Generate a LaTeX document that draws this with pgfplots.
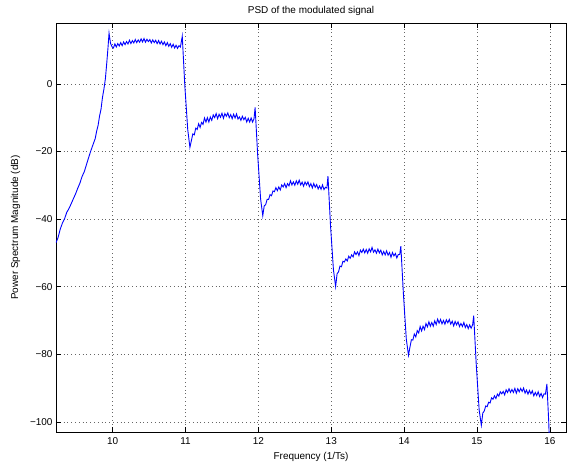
\documentclass[border=0pt]{standalone}
\usepackage{pgfplots}
\pgfplotsset{compat=1.18}
\usepackage{fontspec}
\setmainfont{Liberation Sans}

% PSD values (dB vs. frequency in 1/Ts)
\pgfplotstableread{
x y
9.222 -47.0
9.25 -45.5
9.28 -43.0
9.31 -41.2
9.34 -39.9
9.37 -38.0
9.40 -36.9
9.43 -35.5
9.46 -34.0
9.49 -32.6
9.52 -30.9
9.55 -29.4
9.58 -27.4
9.61 -26.0
9.64 -23.9
9.67 -21.8
9.70 -19.8
9.73 -18.0
9.76 -16.2
9.78 -14.0
9.80 -12.3
9.82 -9.5
9.84 -7.5
9.86 -4.0
9.88 -1.5
9.90 1.5
9.92 6.5
9.935 10.5
9.95 15.0
9.97 12.0
9.99 11.0
10.01 10.6
10.03 11.8
10.05 10.9
10.07 11.9
10.09 11.2
10.11 12.2
10.13 11.3
10.15 12.4
10.17 11.6
10.19 12.5
10.21 11.8
10.23 12.9
10.25 11.9
10.27 12.8
10.29 12.1
10.31 13.1
10.33 12.2
10.35 13.0
10.37 12.3
10.39 13.3
10.41 12.4
10.43 13.4
10.45 12.3
10.47 13.2
10.49 12.5
10.51 13.1
10.53 12.1
10.55 13.0
10.57 12.2
10.59 12.9
10.61 11.9
10.63 12.8
10.65 11.8
10.67 12.6
10.69 11.6
10.71 12.4
10.73 11.3
10.75 12.2
10.77 11.1
10.79 11.9
10.81 10.8
10.83 11.7
10.85 10.6
10.87 11.4
10.89 10.5
10.91 11.3
10.93 10.9
10.955 14.1
10.99 -0.5
11.03 -13.5
11.06 -18.8
11.08 -16.8
11.10 -14.8
11.12 -15.1
11.14 -13.1
11.16 -13.5
11.18 -11.8
11.20 -12.9
11.22 -11.4
11.24 -12.0
11.26 -10.1
11.28 -11.3
11.30 -10.0
11.32 -11.3
11.34 -9.8
11.36 -10.8
11.38 -9.2
11.40 -10.0
11.42 -8.8
11.44 -10.3
11.46 -9.0
11.48 -9.9
11.50 -8.7
11.52 -10.2
11.54 -8.8
11.56 -9.6
11.58 -8.6
11.60 -10.0
11.62 -9.1
11.64 -10.3
11.66 -9.0
11.68 -10.1
11.70 -8.9
11.72 -10.4
11.74 -9.8
11.76 -10.8
11.78 -9.6
11.80 -10.6
11.82 -9.9
11.84 -11.3
11.86 -10.2
11.88 -11.3
11.90 -10.1
11.92 -11.3
11.94 -10.3
11.955 -7.0
11.99 -21.0
12.03 -34.0
12.06 -39.0
12.08 -36.1
12.10 -35.7
12.12 -34.2
12.14 -34.2
12.16 -32.8
12.18 -33.1
12.20 -31.7
12.22 -31.9
12.24 -30.7
12.26 -31.6
12.28 -30.5
12.30 -31.4
12.32 -29.9
12.34 -30.5
12.36 -29.5
12.38 -30.7
12.40 -29.5
12.42 -30.2
12.44 -28.7
12.46 -29.9
12.48 -29.0
12.50 -30.0
12.52 -28.7
12.54 -29.7
12.56 -28.5
12.58 -29.9
12.60 -29.1
12.62 -30.3
12.64 -29.0
12.66 -29.9
12.68 -29.0
12.70 -30.4
12.72 -29.5
12.74 -30.8
12.76 -29.5
12.78 -30.6
12.80 -29.8
12.82 -31.1
12.84 -30.2
12.86 -31.2
12.88 -29.9
12.90 -31.3
12.92 -30.6
12.94 -30.8
12.955 -27.3
12.99 -42.0
13.03 -55.0
13.06 -60.0
13.08 -56.2
13.10 -55.6
13.12 -53.9
13.14 -54.1
13.16 -52.5
13.18 -52.7
13.20 -51.8
13.22 -52.4
13.24 -51.0
13.26 -51.6
13.28 -50.6
13.30 -51.2
13.32 -49.7
13.34 -50.5
13.36 -49.7
13.38 -50.8
13.40 -49.2
13.42 -49.9
13.44 -48.9
13.46 -50.0
13.48 -49.0
13.50 -50.1
13.52 -48.8
13.54 -49.7
13.56 -48.4
13.58 -49.8
13.60 -49.1
13.62 -50.1
13.64 -48.9
13.66 -50.0
13.68 -49.2
13.70 -50.6
13.72 -49.6
13.74 -50.6
13.76 -49.4
13.78 -50.7
13.80 -49.9
13.82 -51.3
13.84 -49.9
13.86 -50.9
13.88 -50.2
13.90 -51.5
13.92 -50.5
13.94 -50.5
13.955 -48.0
13.99 -62.0
14.03 -75.5
14.06 -80.3
14.08 -77.9
14.10 -75.7
14.12 -75.8
14.14 -74.0
14.16 -74.9
14.18 -73.0
14.20 -73.7
14.22 -71.8
14.24 -73.1
14.26 -71.7
14.28 -72.7
14.30 -70.9
14.32 -71.9
14.34 -70.4
14.36 -71.7
14.38 -70.6
14.40 -71.7
14.42 -70.1
14.44 -71.2
14.46 -69.6
14.48 -70.8
14.50 -69.7
14.52 -71.0
14.54 -70.0
14.56 -71.1
14.58 -69.8
14.60 -70.7
14.62 -69.7
14.64 -71.1
14.66 -70.2
14.68 -71.6
14.70 -70.3
14.72 -71.3
14.74 -70.4
14.76 -71.8
14.78 -70.9
14.80 -71.8
14.82 -70.6
14.84 -72.1
14.86 -71.2
14.88 -72.4
14.90 -71.3
14.92 -72.3
14.94 -71.3
14.955 -68.6
14.99 -83.0
15.03 -96.5
15.06 -101.0
15.08 -97.4
15.10 -96.8
15.12 -95.3
15.14 -95.5
15.16 -94.2
15.18 -94.4
15.20 -92.9
15.22 -93.3
15.24 -92.3
15.26 -93.1
15.28 -91.8
15.30 -92.4
15.32 -91.1
15.34 -91.7
15.36 -91.0
15.38 -92.0
15.40 -90.5
15.42 -91.3
15.44 -90.2
15.46 -91.3
15.48 -90.4
15.50 -91.3
15.52 -90.1
15.54 -91.5
15.56 -90.2
15.58 -91.1
15.60 -90.1
15.62 -91.0
15.64 -90.0
15.66 -91.5
15.68 -90.6
15.70 -91.8
15.72 -90.7
15.74 -91.7
15.76 -90.8
15.78 -92.3
15.80 -91.3
15.82 -92.2
15.84 -91.1
15.86 -92.5
15.88 -91.6
15.90 -92.8
15.92 -91.7
15.94 -91.8
15.96 -88.8
15.985 -100.0
16.00 -110.0
}\psd

\begin{document}
\begin{tikzpicture}
\begin{axis}[
  name=ax,
  scale only axis,
  width=510bp, height=409bp,
  xmin=9.222, xmax=16.222,
  ymin=-103, ymax=18,
  xtick={10,11,12,13,14,15,16},
  xticklabels={10,11,12,13,14,15,16},
  ytick={-100,-80,-60,-40,-20,0},
  yticklabels={−100,−80,−60,−40,−20,0},
  tick align=inside,
  major tick length=5bp,
  tick style={black, line width=0.5bp},
  axis line style={black, line width=0.8bp},
  grid=major,
  major grid style={black!60, line width=0.6bp, dash pattern=on 0.6bp off 3.2bp},
  ticklabel style={font=\fontsize{10}{12}\selectfont},
  xticklabel style={yshift=-2bp},
  label style={font=\fontsize{10}{12}\selectfont},
  title style={font=\fontsize{10}{12}\selectfont, yshift=-2bp},
  title={PSD of the modulated signal},
  xlabel={Frequency (1/Ts)},
  ylabel={Power Spectrum Magnitude (dB)},
  xlabel style={yshift=-1bp},
  ylabel style={yshift=3bp},
]
\addplot[blue, line width=0.9bp] table[x=x, y=y] {\psd};
\end{axis}
\pgfresetboundingbox
\path ([shift={(-56bp,-35bp)}]ax.south west) rectangle ([shift={(7bp,23bp)}]ax.north east);
\end{tikzpicture}
\end{document}
